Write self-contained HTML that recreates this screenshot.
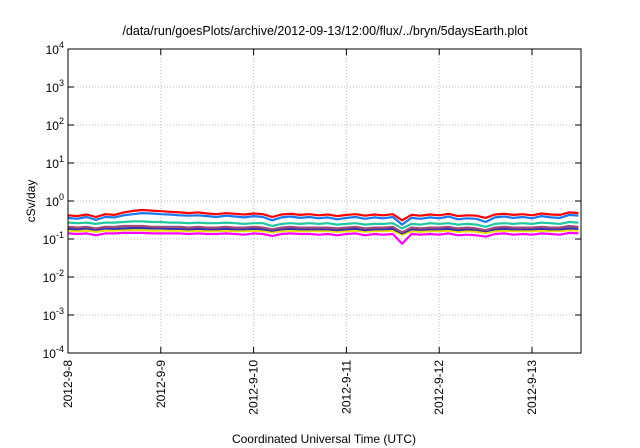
<!DOCTYPE html>
<html><head><meta charset="utf-8"><style>
html,body{margin:0;padding:0;background:#fff;}
svg{display:block;font-family:"Liberation Sans",sans-serif;}
</style></head><body>
<svg id="chart" width="640" height="448" viewBox="0 0 640 448" xmlns="http://www.w3.org/2000/svg">
<text x="325" y="35" font-size="12.5" text-anchor="middle">/data/run/goesPlots/archive/2012-09-13/12:00/flux/../bryn/5daysEarth.plot</text>
<g id="grid"></g>
<g id="series"></g>
<rect x="68" y="49" width="513" height="304" fill="none" stroke="#000" stroke-width="1"/>
<g id="yticks"></g>
<g id="xticks"></g>
<text x="0" y="0" font-size="12" text-anchor="middle" transform="translate(35,201) rotate(-90)">cSv/day</text>
<text x="324" y="443" font-size="12" text-anchor="middle">Coordinated Universal Time (UTC)</text>
</svg>
<script>
const xTickLabels = ["2012-9-8","2012-9-9","2012-9-10","2012-9-11","2012-9-12","2012-9-13"];
const yTickExps = [4,3,2,1,0,-1,-2,-3,-4];
const dayStep = 0.1;
const red = [0.42,0.40,0.44,0.38,0.45,0.43,0.50,0.55,0.58,0.56,0.54,0.52,0.50,0.48,0.50,0.47,0.45,0.48,0.46,0.44,0.47,0.45,0.38,0.44,0.46,0.43,0.45,0.42,0.44,0.40,0.43,0.45,0.41,0.44,0.42,0.45,0.31,0.43,0.41,0.44,0.42,0.46,0.40,0.42,0.41,0.36,0.44,0.46,0.43,0.45,0.42,0.47,0.44,0.43,0.50,0.48];
const blue = [0.36,0.34,0.38,0.32,0.38,0.37,0.42,0.45,0.48,0.47,0.45,0.44,0.42,0.41,0.42,0.40,0.38,0.41,0.39,0.37,0.40,0.38,0.31,0.37,0.39,0.36,0.38,0.35,0.37,0.33,0.36,0.38,0.34,0.37,0.35,0.38,0.24,0.36,0.34,0.37,0.35,0.39,0.33,0.35,0.34,0.28,0.37,0.39,0.36,0.38,0.35,0.40,0.37,0.36,0.43,0.41];
const teal = [0.27,0.26,0.27,0.25,0.27,0.27,0.28,0.29,0.29,0.28,0.28,0.27,0.27,0.26,0.27,0.26,0.26,0.27,0.26,0.25,0.26,0.26,0.22,0.25,0.26,0.25,0.26,0.25,0.26,0.24,0.25,0.26,0.24,0.25,0.25,0.26,0.19,0.25,0.24,0.26,0.25,0.26,0.24,0.25,0.24,0.21,0.25,0.26,0.25,0.26,0.25,0.27,0.26,0.25,0.28,0.27];
const mauve = [0.21,0.20,0.21,0.19,0.21,0.21,0.22,0.22,0.22,0.21,0.21,0.21,0.21,0.20,0.21,0.20,0.20,0.21,0.20,0.20,0.21,0.20,0.18,0.20,0.21,0.20,0.20,0.20,0.20,0.19,0.20,0.21,0.19,0.20,0.20,0.21,0.15,0.20,0.19,0.20,0.20,0.21,0.19,0.20,0.19,0.17,0.20,0.21,0.20,0.20,0.20,0.21,0.20,0.20,0.22,0.21];
const navy = [0.185,0.18,0.19,0.175,0.19,0.185,0.19,0.195,0.195,0.19,0.19,0.185,0.185,0.18,0.185,0.18,0.18,0.185,0.18,0.18,0.185,0.18,0.165,0.18,0.185,0.18,0.18,0.18,0.18,0.17,0.18,0.185,0.17,0.18,0.18,0.185,0.14,0.18,0.175,0.18,0.18,0.185,0.17,0.18,0.175,0.16,0.18,0.185,0.18,0.18,0.18,0.185,0.18,0.18,0.19,0.185];
const yellow = [0.165,0.16,0.165,0.155,0.165,0.165,0.17,0.17,0.17,0.165,0.165,0.165,0.165,0.16,0.165,0.16,0.16,0.165,0.16,0.16,0.165,0.16,0.15,0.16,0.165,0.16,0.16,0.16,0.16,0.155,0.16,0.165,0.155,0.16,0.16,0.165,0.13,0.16,0.155,0.16,0.16,0.165,0.155,0.16,0.155,0.145,0.16,0.165,0.16,0.16,0.16,0.165,0.16,0.16,0.17,0.165];
const magenta = [0.14,0.135,0.14,0.125,0.14,0.14,0.145,0.145,0.145,0.14,0.14,0.14,0.14,0.135,0.14,0.135,0.135,0.14,0.135,0.13,0.14,0.135,0.12,0.135,0.14,0.135,0.135,0.13,0.135,0.125,0.135,0.14,0.125,0.135,0.13,0.135,0.075,0.135,0.13,0.135,0.13,0.14,0.125,0.13,0.125,0.115,0.135,0.14,0.13,0.135,0.13,0.14,0.135,0.13,0.145,0.14];
const seriesList = [[magenta,"#ff00ff"],[yellow,"#e8e000"],[navy,"#3030b0"],[mauve,"#a04a7a"],[teal,"#20c8a0"],[red,"#ff0000"],[blue,"#1a78f0"]];

const L=68,R=581,T=49,B=353,pxPerDay=92.8;
const xs=d=>L+d*pxPerDay;
const ys=v=>T+(4-Math.log10(v))*38;
const NS="http://www.w3.org/2000/svg";
function mk(tag,attrs,parent){const e=document.createElementNS(NS,tag);for(const k in attrs)e.setAttribute(k,attrs[k]);parent.appendChild(e);return e;}
const grid=document.getElementById('grid'),yt=document.getElementById('yticks'),xt=document.getElementById('xticks'),sg=document.getElementById('series');
yTickExps.forEach(ex=>{
  const y=ys(Math.pow(10,ex));
  const gl=mk('line',{x1:L,x2:R,y1:y,y2:y,stroke:'#bbb','stroke-dasharray':'1,2','stroke-width':1},grid);
  
  
  mk('line',{x1:L,x2:L+6,y1:y,y2:y,stroke:'#000'},yt);
  mk('line',{x1:R-6,x2:R,y1:y,y2:y,stroke:'#000'},yt);
  const t=mk('text',{x:64,y:y+5,'font-size':12,'text-anchor':'end'},yt);
  
  
  t.appendChild(document.createTextNode('10'));
  const s=mk('tspan',{dy:-6,'font-size':9},t);
  s.textContent=String(ex);
});
xTickLabels.forEach((lab,i)=>{
  const x=xs(i);
  if(i>0){const gl=mk('line',{x1:x,x2:x,y1:T,y2:B,stroke:'#bbb','stroke-dasharray':'1,2'},grid);
  
  }
  mk('line',{x1:x,x2:x,y1:B,y2:B-6,stroke:'#000'},xt);
  mk('line',{x1:x,x2:x,y1:T,y2:T+6,stroke:'#000'},xt);
  const t=mk('text',{x:0,y:0,'font-size':12,'text-anchor':'end',transform:`translate(${x+4},360) rotate(-90)`},xt);
  
  
  t.textContent=lab;
});
seriesList.forEach(([vals,col])=>{
  const d=vals.map((v,i)=>(i?'L':'M')+xs(i*dayStep).toFixed(1)+','+ys(v).toFixed(1)).join(' ');
  const p=mk('path',{d:d,fill:'none',stroke:col,'stroke-width':2.2,'stroke-linejoin':'round'},sg);
  
  
});
</script>
</body></html>
